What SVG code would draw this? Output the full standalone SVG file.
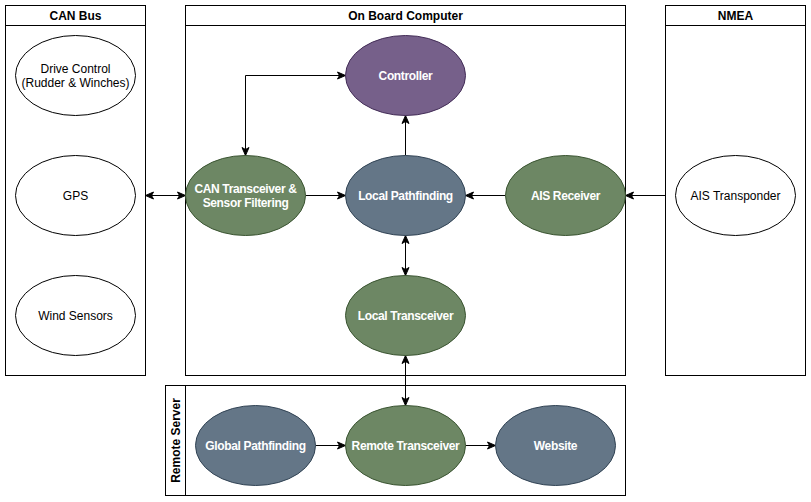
<svg xmlns="http://www.w3.org/2000/svg" width="811" height="502" viewBox="0 0 811 502">
<defs>
<marker id="arr" viewBox="0 0 10 10" refX="9" refY="5" markerWidth="10" markerHeight="10" markerUnits="userSpaceOnUse" orient="auto-start-reverse">
<path d="M1,1.5 L9,5 L1,8.5 L3,5 z" fill="#000" stroke="#000" stroke-width="1"/>
</marker>
<style>
text{font-family:"Liberation Sans",Arial,sans-serif;font-size:12px;text-anchor:middle;dominant-baseline:central}
.cont{fill:#fff;stroke:#000;stroke-width:1}
.hdr{font-weight:bold;fill:#000}
.wn{fill:#fff;stroke:#000;stroke-width:1}
.g{fill:#6d8764;stroke:#3a5431;stroke-width:1}
.p{fill:#76608a;stroke:#432d57;stroke-width:1}
.b{fill:#647687;stroke:#314354;stroke-width:1}
.wt{fill:#fff;font-weight:bold;letter-spacing:-0.35px}
.bt{fill:#000}
.c{fill:none;stroke:#000;stroke-width:1}
</style>
</defs>
<rect width="811" height="502" fill="#fff"/>
<g id="can-bus">
<rect class="cont" x="5.5" y="5.5" width="140" height="370"/>
<line class="c" x1="5.5" y1="25.5" x2="145.5" y2="25.5"/>
<text class="hdr" x="75.5" y="15.5">CAN Bus</text>
</g>
<g id="on-board-computer">
<rect class="cont" x="185.5" y="5.5" width="440" height="370"/>
<line class="c" x1="185.5" y1="25.5" x2="625.5" y2="25.5"/>
<text class="hdr" x="405.5" y="15.5">On Board Computer</text>
</g>
<g id="nmea">
<rect class="cont" x="665.5" y="5.5" width="140" height="370"/>
<line class="c" x1="665.5" y1="25.5" x2="805.5" y2="25.5"/>
<text class="hdr" x="735.5" y="15.5">NMEA</text>
</g>
<g id="remote-server">
<rect class="cont" x="165.5" y="385.5" width="460" height="110"/>
<line class="c" x1="185.5" y1="385.5" x2="185.5" y2="495.5"/>
<text class="hdr" transform="translate(175.5,440.5) rotate(-90)" x="0" y="0">Remote Server</text>
</g>
<g id="connectors">
<line class="c" x1="145.5" y1="195.5" x2="185.5" y2="195.5" marker-start="url(#arr)" marker-end="url(#arr)"/>
<polyline class="c" points="345.5,75.5 245.5,75.5 245.5,155.5" marker-start="url(#arr)" marker-end="url(#arr)"/>
<line class="c" x1="305.5" y1="195.5" x2="345.5" y2="195.5" marker-end="url(#arr)"/>
<line class="c" x1="405.5" y1="155.5" x2="405.5" y2="115.5" marker-end="url(#arr)"/>
<line class="c" x1="505.5" y1="195.5" x2="465.5" y2="195.5" marker-end="url(#arr)"/>
<line class="c" x1="665.5" y1="195.5" x2="625.5" y2="195.5" marker-end="url(#arr)"/>
<line class="c" x1="405.5" y1="235.5" x2="405.5" y2="275.5" marker-start="url(#arr)" marker-end="url(#arr)"/>
<line class="c" x1="405.5" y1="355.5" x2="405.5" y2="405.5" marker-start="url(#arr)" marker-end="url(#arr)"/>
<line class="c" x1="315.5" y1="445.5" x2="345.5" y2="445.5" marker-end="url(#arr)"/>
<line class="c" x1="465.5" y1="445.5" x2="495.5" y2="445.5" marker-end="url(#arr)"/>
</g>
<g id="drive-control">
<ellipse class="wn" cx="75.5" cy="75.5" rx="60" ry="40"/>
<text class="bt" x="75.5" y="68.5">Drive Control</text>
<text class="bt" x="75.5" y="82.5">(Rudder &amp; Winches)</text>
</g>
<g id="gps">
<ellipse class="wn" cx="75.5" cy="195.5" rx="60" ry="40"/>
<text class="bt" x="75.5" y="195.5">GPS</text>
</g>
<g id="wind-sensors">
<ellipse class="wn" cx="75.5" cy="315.5" rx="60" ry="40"/>
<text class="bt" x="75.5" y="315.5">Wind Sensors</text>
</g>
<g id="can-transceiver">
<ellipse class="g" cx="245.5" cy="195.5" rx="60" ry="40"/>
<text class="wt" x="245.5" y="188.5">CAN Transceiver &amp;</text>
<text class="wt" x="245.5" y="202.5">Sensor Filtering</text>
</g>
<g id="controller">
<ellipse class="p" cx="405.5" cy="75.5" rx="60" ry="40"/>
<text class="wt" x="405.5" y="75.5">Controller</text>
</g>
<g id="local-pathfinding">
<ellipse class="b" cx="405.5" cy="195.5" rx="60" ry="40"/>
<text class="wt" x="405.5" y="195.5">Local Pathfinding</text>
</g>
<g id="ais-receiver">
<ellipse class="g" cx="565.5" cy="195.5" rx="60" ry="40"/>
<text class="wt" x="565.5" y="195.5">AIS Receiver</text>
</g>
<g id="local-transceiver">
<ellipse class="g" cx="405.5" cy="315.5" rx="60" ry="40"/>
<text class="wt" x="405.5" y="315.5">Local Transceiver</text>
</g>
<g id="ais-transponder">
<ellipse class="wn" cx="735.5" cy="195.5" rx="60" ry="40"/>
<text class="bt" x="735.5" y="195.5">AIS Transponder</text>
</g>
<g id="global-pathfinding">
<ellipse class="b" cx="255.5" cy="445.5" rx="60" ry="40"/>
<text class="wt" x="255.5" y="445.5">Global Pathfinding</text>
</g>
<g id="remote-transceiver">
<ellipse class="g" cx="405.5" cy="445.5" rx="60" ry="40"/>
<text class="wt" x="405.5" y="445.5">Remote Transceiver</text>
</g>
<g id="website">
<ellipse class="b" cx="555.5" cy="445.5" rx="60" ry="40"/>
<text class="wt" x="555.5" y="445.5">Website</text>
</g>
</svg>
